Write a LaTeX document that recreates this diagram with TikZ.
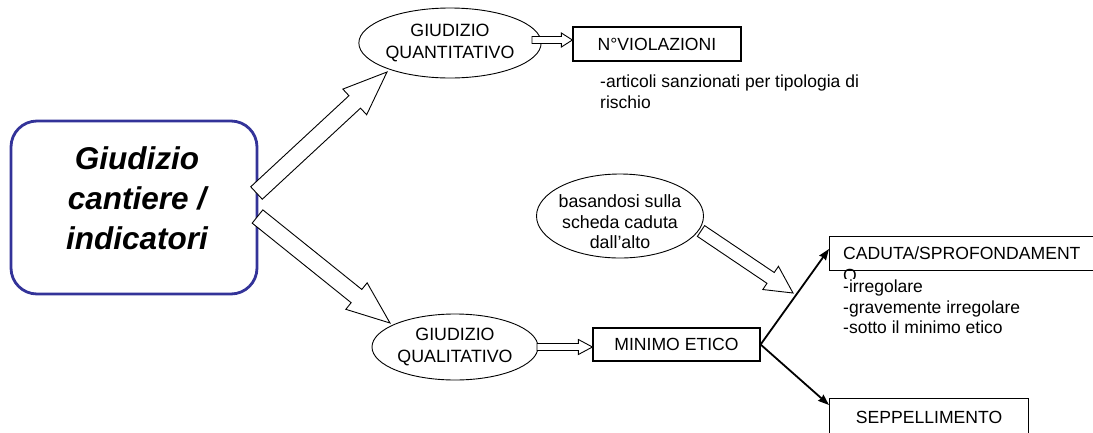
\documentclass[tikz,border=0pt]{standalone}
\usepackage{fontspec}
\setmainfont{Liberation Sans}
\usetikzlibrary{calc,shapes.geometric,arrows.meta}
\definecolor{mainblue}{RGB}{51,51,153}
\newcommand{\blockarr}[5]{% #1 start, #2 tip, #3 shaft width, #4 head width, #5 head length
  \coordinate (ba-c) at ($(#2)!#5!(#1)$);
  \draw[hollow] ($(#1)!#3/2!90:(#2)$) -- ($(ba-c)!#3/2!90:(#2)$) -- ($(ba-c)!#4/2!90:(#2)$) -- (#2)
    -- ($(ba-c)!#4/2!-90:(#2)$) -- ($(ba-c)!#3/2!-90:(#2)$) -- ($(#1)!#3/2!-90:(#2)$) -- cycle;
}
\tikzset{
  hollow/.style={draw=black, line width=0.9pt, fill=white, line join=miter},
  oval/.style={ellipse, draw, line width=0.9pt, inner sep=0pt, align=center, font=\fontsize{17.8}{21.5}\selectfont},
  rbox/.style={draw, line width=1.2pt, inner sep=0pt, font=\fontsize{17.6}{21}\selectfont},
  txt/.style={inner sep=0pt, align=left, font=\fontsize{17.5}{20.7}\selectfont},
  blk/.style={line width=1.8pt, -{Stealth[length=11pt,width=8pt,inset=1pt]}}
}
\begin{document}
\begin{tikzpicture}[x=1pt,y=-1pt]
\path[use as bounding box] (0,0) rectangle (1093,432);
\clip (0,0) rectangle (1093,432);

% main box
\node[draw=mainblue, line width=2.8pt, rounded corners=26pt, minimum width=246pt, minimum height=173pt, inner sep=0pt] (main) at (134,207.5) {};
\node[font=\fontsize{31.5}{40}\selectfont\bfseries\itshape, align=center, inner sep=0pt] (maintxt) at (137,198) {Giudizio\\cantiere /\\indicatori};

% ellipses
\node[oval, minimum width=166pt, minimum height=70pt] (quant) at (450,43) {GIUDIZIO\\QUANTITATIVO};
\node[oval, minimum width=166pt, minimum height=66pt] (qual) at (455,347) {GIUDIZIO\\QUALITATIVO};
\node[oval, minimum width=167pt, minimum height=84pt] (bas) at (620,216) {};
\node[inner sep=0pt, align=center, font=\fontsize{17.8}{20.5}\selectfont] (bastxt) at (620,222) {basandosi sulla\\scheda caduta\\dall’alto};

% boxes
\node[rbox, minimum width=168pt, minimum height=34pt] (nviol) at (657,44) {N°VIOLAZIONI};
\node[txt, anchor=north west] (arttxt) at (600,74.5) {-articoli sanzionati per tipologia di\\rischio};
\node[rbox, minimum width=167pt, minimum height=33pt] (minimo) at (676.5,344.5) {MINIMO ETICO};
\node[rbox, minimum width=266pt, minimum height=34pt, anchor=north west] (cad) at (829,236) {};
\node[inner sep=0pt, align=left, anchor=north west, font=\fontsize{17.6}{22.5}\selectfont] (cadtxt) at (843,246.3) {CADUTA/SPROFONDAMENT\\O};
\node[txt, fill=white, inner xsep=0pt, inner ysep=0.8pt, anchor=north west] (listtxt) at (843,278.7) {-irregolare\\-gravemente irregolare\\-sotto il minimo etico};
\node[rbox, minimum width=199pt, minimum height=38pt, anchor=north west] (sep) at (829,398) {SEPPELLIMENTO};

% hollow block arrows
\coordinate (a1s) at (256.5,193);
\coordinate (a1e) at (387,72);
\blockarr{a1s}{a1e}{17pt}{35pt}{44pt}
\coordinate (a2s) at (257.5,216.5);
\coordinate (a2e) at (390,323);
\blockarr{a2s}{a2e}{17pt}{34pt}{43pt}
\coordinate (b1) at (701,231);
\coordinate (b2) at (793,293);
\blockarr{b1}{b2}{13pt}{28pt}{27pt}
\coordinate (q1) at (532,40);
\coordinate (q2) at (nviol.west |- q1);
\blockarr{q1}{q2}{7pt}{14pt}{11pt}
\coordinate (l1) at (537,347);
\coordinate (l2) at (minimo.west |- l1);
\blockarr{l1}{l2}{7pt}{15pt}{14pt}

% black arrows
\coordinate (cadin) at ($(cad.north west)+(0,13)$);
\coordinate (sepin) at ($(sep.north west)+(0,7)$);
\draw[blk] (minimo.east) -- (cadin);
\draw[blk] (minimo.east) -- (sepin);
\end{tikzpicture}
\end{document}
